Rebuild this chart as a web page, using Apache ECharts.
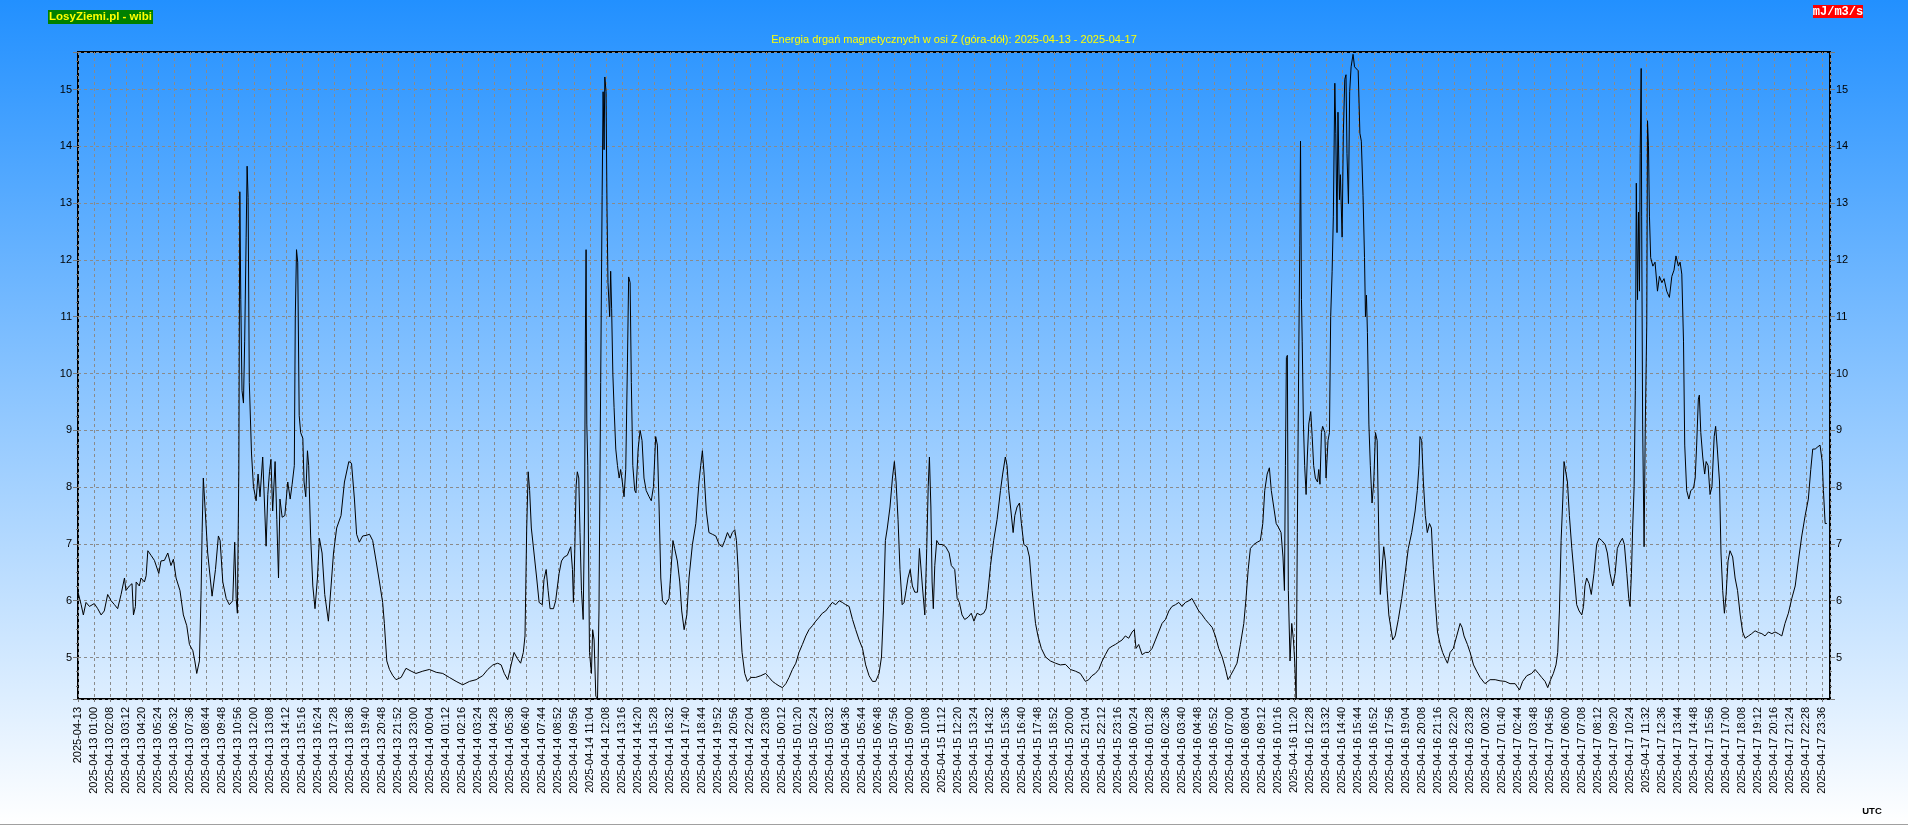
<!DOCTYPE html>
<html><head><meta charset="utf-8">
<script src="https://cdn.jsdelivr.net/npm/echarts@6/dist/echarts.min.js"></script>
<style>html,body{margin:0;padding:0;background:#fff;overflow:hidden}#c{width:1908px;height:825px}</style>
</head><body><div id="c"></div>
<script>
// X tick labels (one every ~65.75 min, as in the source chart)
const tickLabels = [
"2025-04-13","2025-04-13 01:00","2025-04-13 02:08","2025-04-13 03:12","2025-04-13 04:20","2025-04-13 05:24","2025-04-13 06:32","2025-04-13 07:36","2025-04-13 08:44","2025-04-13 09:48","2025-04-13 10:56","2025-04-13 12:00","2025-04-13 13:08","2025-04-13 14:12","2025-04-13 15:16","2025-04-13 16:24","2025-04-13 17:28","2025-04-13 18:36","2025-04-13 19:40","2025-04-13 20:48","2025-04-13 21:52","2025-04-13 23:00",
"2025-04-14 00:04","2025-04-14 01:12","2025-04-14 02:16","2025-04-14 03:24","2025-04-14 04:28","2025-04-14 05:36","2025-04-14 06:40","2025-04-14 07:44","2025-04-14 08:52","2025-04-14 09:56","2025-04-14 11:04","2025-04-14 12:08","2025-04-14 13:16","2025-04-14 14:20","2025-04-14 15:28","2025-04-14 16:32","2025-04-14 17:40","2025-04-14 18:44","2025-04-14 19:52","2025-04-14 20:56","2025-04-14 22:04","2025-04-14 23:08",
"2025-04-15 00:12","2025-04-15 01:20","2025-04-15 02:24","2025-04-15 03:32","2025-04-15 04:36","2025-04-15 05:44","2025-04-15 06:48","2025-04-15 07:56","2025-04-15 09:00","2025-04-15 10:08","2025-04-15 11:12","2025-04-15 12:20","2025-04-15 13:24","2025-04-15 14:32","2025-04-15 15:36","2025-04-15 16:40","2025-04-15 17:48","2025-04-15 18:52","2025-04-15 20:00","2025-04-15 21:04","2025-04-15 22:12","2025-04-15 23:16",
"2025-04-16 00:24","2025-04-16 01:28","2025-04-16 02:36","2025-04-16 03:40","2025-04-16 04:48","2025-04-16 05:52","2025-04-16 07:00","2025-04-16 08:04","2025-04-16 09:12","2025-04-16 10:16","2025-04-16 11:20","2025-04-16 12:28","2025-04-16 13:32","2025-04-16 14:40","2025-04-16 15:44","2025-04-16 16:52","2025-04-16 17:56","2025-04-16 19:04","2025-04-16 20:08","2025-04-16 21:16","2025-04-16 22:20","2025-04-16 23:28",
"2025-04-17 00:32","2025-04-17 01:40","2025-04-17 02:44","2025-04-17 03:48","2025-04-17 04:56","2025-04-17 06:00","2025-04-17 07:08","2025-04-17 08:12","2025-04-17 09:20","2025-04-17 10:24","2025-04-17 11:32","2025-04-17 12:36","2025-04-17 13:44","2025-04-17 14:48","2025-04-17 15:56","2025-04-17 17:00","2025-04-17 18:08","2025-04-17 19:12","2025-04-17 20:16","2025-04-17 21:24","2025-04-17 22:28","2025-04-17 23:36"
];

// Time of each reading, minutes since 2025-04-13 00:00 UTC
const times = [
0,13,22,33,47,67,81,95,108,122,136,150,163,177,191,197,211,222,228,236,239,252,259,273,280,287,300,314,332,341,355,369,382,392,403,419,433,447,458,472,480,488,499,506,510,515,521,533,551,565,577,584,595,609,622,636,644,650,655,661,665,669,674,680,685,691,695,699,704,713,721,732,740,748,759,767,773,780,787,793,800,810,817,824,830,839,850,862,872,880,889,893,898,903,909,915,924,929,936,943,948,956,965,974,984,992,1003,1014,1029,1040,1050,1063,1081,1095,1113,1124,1136,1145,1156,1170,1184,1198,1211,1225,1239,1252,1259,1269,1280,1294,1307,1328,1348,1369,1389,1417,1444,1472,1499,1526,1554,1581,1609,1636,1663,1684,1705,1725,1739,1752,1766,1780,
1792,1806,1819,1830,1837,1844,1850,1856,1863,1874,1885,1895,1908,1915,1924,1932,1940,1954,1963,1977,1987,1998,2011,2025,2032,2036,2041,2047,2052,2058,2063,2069,2076,2082,2085,2088,2091,2095,2102,2110,2115,2121,2128,2135,2141,2148,2154,2158,2162,2165,2170,2174,2178,2185,2189,2193,2198,2203,2210,2217,2224,2230,2237,2244,2251,2258,2263,2269,2274,2280,2288,2293,2302,2310,2318,2326,2335,2347,2356,2365,2374,2381,2388,2395,2402,2415,2429,2436,2445,2452,2463,2473,2481,2491,2502,2511,2525,2539,2552,2559,2566,2573,2582,2593,2607,2621,2635,2648,2658,2669,2680,2689,2699,2706,2713,2721,2729,2740,2751,2765,2785,2806,2826,2840,2854,2867,2881,2895,2909,2922,2936,2950,2963,2977,2991,3004,3018,3032,3046,3059,3073,3087,3100,3114,3128,3141,3155,3169,3183,3196,3210,3224,3237,3251,3265,3278,3292,3302,3310,3318,3326,3337,3347,3355,3362,3370,3378,3387,3395,3403,3411,3420,3429,3439,3450,3458,3463,3470,3480,3488,3494,3499,3505,3510,3515,3521,3529,3539,3552,3566,3580,3589,
3603,3613,3622,3633,3644,3658,3671,3682,3695,3708,3722,3732,3740,3750,3763,3777,3791,3800,3811,3818,3825,3834,3843,3850,3859,3869,3877,3887,3900,3910,3921,3935,3945,3959,3976,3996,4017,4037,4058,4078,4099,4119,4140,4154,4167,4181,4195,4209,4222,4236,4250,4263,4277,4291,4304,4318,4332,4341,4348,4359,4373,4387,4400,4414,4428,4441,4455,4469,4483,4496,4510,4524,4537,4551,4565,4578,4592,4606,4620,4633,4647,4661,4674,4688,4702,4715,4726,4736,4750,4763,4777,4791,4800,4809,4818,4832,4846,4859,4869,4877,4887,4896,4904,4914,4924,4935,4944,4952,4958,4962,4966,4970,4974,4981,4988,4995,5000,5006,5011,5017,5021,5024,5028,5031,5036,5041,5047,5052,5058,5066,5072,5078,5085,5094,5099,5104,5110,5115,5124,5129,5137,5143,5148,5154,5159,5165,5169,5174,5178,5184,5188,5195,5200,5206,5211,5215,5221,5226,5232,5240,5246,5254,5261,5268,5274,5281,5287,5291,5295,5299,5305,5311,5318,5325,5332,5339,5346,5352,5359,5366,5373,5380,5387,
5403,5413,5426,5440,5454,5467,5481,5495,5504,5511,5515,5522,5529,5537,5545,5554,5562,5570,5578,5587,5598,5608,5619,5628,5639,5652,5666,5680,5688,5696,5710,5721,5735,5748,5762,5782,5803,5824,5844,5865,5885,5906,5924,5937,5954,5974,5988,6002,6015,6029,6040,6052,6063,6074,6081,6088,6095,6102,6107,6114,6121,6129,6139,6148,6159,6169,6180,6187,6193,6200,6210,6219,6230,6241,6251,6262,6276,6285,6296,6307,6317,6326,6337,6347,6355,6365,6373,6378,6384,6389,6395,6400,6404,6409,6413,6417,6420,6424,6426,6430,6436,6441,6447,6450,6454,6458,6463,6472,6481,6491,6499,6509,6518,6529,6540,6550,6559,6567,6577,6584,6591,6598,6603,6611,6620,6628,6639,6646,6652,6659,6663,6669,6677,6685,6691,6699,6707,6715,6724,6730,6737,6746,6752,6759,6766,6773,6781,6789,6800,6810,6820,6831,6841,6851,6865,6878,6892,6906,6920,6933,6947,6961,6974,6988,7002,7015,7029,7043,7057,7070,7084,7098,7111,7121,7129,7139,7150,7159,7168,7173,7180,7187
];

// Energy values, mJ/m3/s
const values = [
6.15,5.93,5.75,5.97,5.9,5.95,5.86,5.75,5.82,6.11,6.0,5.93,5.86,6.11,6.4,6.18,6.26,6.3,5.75,5.9,6.33,6.26,6.4,6.33,6.44,6.88,6.8,6.71,6.48,6.7,6.71,6.84,6.62,6.73,6.4,6.18,5.75,5.56,5.23,5.12,4.94,4.72,4.94,6.18,7.2,8.16,7.72,6.84,6.08,6.55,7.14,7.06,6.33,6.04,5.93,6.0,7.03,6.04,5.78,8.3,13.2,11.3,9.7,9.48,10.57,12.4,13.65,13.1,9.84,8.6,8.01,7.76,8.23,7.83,8.53,7.65,6.96,7.87,8.27,8.49,7.58,8.45,7.43,6.4,7.79,7.47,7.5,8.09,7.79,8.05,8.38,11.0,12.18,11.96,9.26,8.96,8.86,8.09,7.83,8.64,8.38,7.14,6.26,5.86,6.4,7.1,6.84,6.11,5.64,6.26,6.84,7.28,7.5,8.09,8.45,8.42,7.79,7.17,7.03,7.14,7.15,7.17,7.06,6.7,6.33,5.97,5.6,4.94,4.79,4.68,4.61,4.65,4.81,4.76,4.72,4.76,4.79,4.74,4.72,4.65,4.58,4.52,4.58,4.61,4.68,4.79,4.87,4.9,4.87,4.72,4.61,4.87,
5.09,4.98,4.9,5.09,5.38,7.28,8.27,7.94,7.28,6.84,6.4,5.97,5.93,6.37,6.55,6.18,5.86,5.86,6.0,6.48,6.7,6.77,6.8,6.95,6.55,5.97,6.77,8.02,8.27,8.16,7.2,6.18,5.67,7.65,10.57,12.18,9.11,8.38,5.09,4.72,5.49,5.31,4.32,4.28,5.82,9.84,13.13,14.96,13.94,15.22,14.96,12.9,11.6,11.0,11.8,11.14,9.99,9.4,8.67,8.38,8.16,8.31,8.09,7.83,8.31,10.2,11.7,11.6,9.84,8.38,7.94,7.9,8.67,9.0,8.82,8.16,7.94,7.83,7.76,8.01,8.89,8.74,7.65,6.4,6.0,5.93,6.04,6.48,7.06,6.92,6.7,6.33,5.82,5.49,5.75,6.4,6.99,7.36,8.09,8.38,8.64,8.23,7.58,7.2,7.17,7.14,6.99,6.95,7.06,7.2,7.1,7.2,7.25,7.06,6.55,5.67,5.09,4.72,4.58,4.65,4.65,4.68,4.72,4.65,4.58,4.54,4.5,4.47,4.54,4.65,4.79,4.9,5.09,5.23,5.38,5.49,5.56,5.64,5.71,5.78,5.82,5.9,5.97,5.93,6.0,5.97,5.93,5.9,5.67,5.49,5.31,5.16,4.87,4.68,4.58,4.58,4.72,5.01,5.82,7.06,7.28,7.65,8.16,8.45,8.09,7.43,6.55,5.93,5.97,6.18,6.4,6.55,6.26,6.15,6.15,6.92,6.95,6.26,5.75,6.92,8.01,8.53,7.65,6.33,5.86,6.62,7.06,6.99,6.99,6.95,6.84,6.62,
6.55,6.04,5.97,5.75,5.67,5.71,5.78,5.64,5.78,5.75,5.78,5.86,6.18,6.62,7.06,7.43,7.94,8.23,8.53,8.38,7.94,7.58,7.2,7.5,7.65,7.72,7.36,6.99,6.95,6.77,6.18,5.6,5.38,5.16,5.01,4.94,4.9,4.87,4.88,4.79,4.76,4.72,4.58,4.61,4.68,4.72,4.79,4.94,5.05,5.16,5.2,5.23,5.27,5.31,5.38,5.34,5.45,5.49,5.16,5.23,5.05,5.09,5.09,5.16,5.31,5.45,5.6,5.67,5.82,5.9,5.93,5.97,5.9,5.97,6.0,6.04,5.93,5.82,5.75,5.67,5.6,5.53,5.38,5.16,5.01,4.81,4.61,4.68,4.79,4.9,5.23,5.6,6.04,6.55,6.92,6.99,7.03,7.06,7.36,7.94,8.23,8.34,7.94,7.65,7.36,7.28,7.2,6.77,6.18,8.38,10.28,10.32,6.18,4.94,5.6,5.31,4.94,4.28,7.2,10.43,12.26,14.09,11.3,10.57,9.11,8.38,7.87,8.53,9.11,9.33,8.89,8.38,8.16,8.09,8.31,8.05,8.96,9.07,8.96,8.16,8.82,8.96,11.0,11.8,12.77,15.11,14.23,12.48,14.6,13.06,13.5,12.4,14.23,15.18,15.26,13.87,12.99,14.96,15.4,15.62,15.4,15.4,15.33,14.23,14.09,13.13,12.04,11.0,11.38,10.72,9.11,8.38,7.72,8.09,8.96,8.82,7.06,6.11,6.55,6.95,6.7,6.18,5.75,
5.31,5.38,5.67,6.04,6.48,6.92,7.2,7.58,7.94,8.38,8.89,8.82,8.09,7.5,7.2,7.36,7.28,6.55,5.97,5.45,5.23,5.09,4.98,4.9,5.09,5.16,5.38,5.6,5.53,5.38,5.23,5.09,4.87,4.76,4.65,4.54,4.61,4.61,4.59,4.58,4.54,4.54,4.43,4.58,4.68,4.72,4.79,4.72,4.65,4.58,4.47,4.61,4.72,4.87,5.09,5.82,7.06,7.79,8.45,8.45,8.09,7.5,6.92,6.48,5.93,5.82,5.75,5.9,6.26,6.4,6.3,6.11,6.48,6.99,7.1,7.06,6.99,6.84,6.48,6.26,6.48,6.92,7.03,7.1,6.99,6.48,6.04,5.9,6.48,7.28,8.01,9.7,13.35,11.3,12.84,11.45,13.87,15.37,12.77,9.11,6.95,9.11,10.87,14.45,14.01,12.77,12.04,11.89,11.96,11.45,11.71,11.6,11.67,11.45,11.34,11.71,11.82,12.07,11.89,11.96,11.75,10.57,8.74,7.94,7.79,7.94,7.98,8.16,8.74,9.55,9.62,8.96,8.53,8.23,8.45,8.38,7.87,8.01,8.89,9.07,8.67,8.09,6.84,6.18,5.78,6.11,6.7,6.88,6.77,6.4,6.18,5.75,5.45,5.34,5.38,5.42,5.47,5.44,5.42,5.38,5.45,5.42,5.45,5.42,5.38,5.6,5.78,6.04,6.26,6.7,7.14,7.5,7.79,8.31,8.67,8.67,8.71,8.74,8.45,7.94,7.36,7.36
];

const TITLE = "Energia drgań magnetycznych w osi Z (góra-dół): 2025-04-13 - 2025-04-17";
const SITE_LABEL = "LosyZiemi.pl - wibi";
const UNIT_LABEL = "mJ/m3/s";
const TZ_LABEL = "UTC";

const T_MAX = 7200;               // 5 days in minutes
const X_STEP = T_MAX / 109.5;      // label spacing in minutes
const Y_MIN = 4.27, Y_MAX = 15.66;

const chart = echarts.init(document.getElementById('c'), null, {renderer: 'canvas'});
const FONT = 'Liberation Sans, Arial, sans-serif';

function xLabel(v) {
  const i = Math.round(v / X_STEP);
  if (Math.abs(v - i * X_STEP) > 0.01 || i < 0 || i >= tickLabels.length) return '';
  return tickLabels[i];
}

const yCommon = {
  type: 'value', min: Y_MIN, max: Y_MAX, splitNumber: 11,
  axisLine: {show: false},
  axisTick: {show: true, length: 5, lineStyle: {color: '#7a7a7a'}},
  minorTick: {show: true, splitNumber: 4, length: 2, lineStyle: {color: '#7a7a7a'}},
  axisLabel: {fontSize: 11, color: '#000', fontFamily: FONT, margin: 6, showMinLabel: false, showMaxLabel: false}
};

chart.setOption({
  animation: false,
  backgroundColor: {type: 'linear', x: 0, y: 0, x2: 0, y2: 1,
    colorStops: [{offset: 0, color: '#2290FF'}, {offset: 1, color: '#FFFFFF'}]},
  title: {text: TITLE, left: 'center', top: 34, padding: 0,
    textStyle: {color: '#FFFF00', fontSize: 11, fontWeight: 'normal', fontFamily: FONT}},
  grid: {left: 78, top: 52, width: 1752, height: 647, show: true, borderColor: '#000', borderWidth: 2, backgroundColor: 'transparent'},
  xAxis: {
    type: 'value', min: 0, max: T_MAX, interval: X_STEP,
    axisLine: {show: false},
    axisTick: {show: true, length: 3, lineStyle: {color: '#7a7a7a'}},
    axisLabel: {rotate: 90, fontSize: 11, color: '#000', fontFamily: FONT, margin: 8, formatter: xLabel, showMaxLabel: false, hideOverlap: false},
    splitLine: {show: true, lineStyle: {color: '#8a8a8a', width: 1, type: [3, 3]}}
  },
  yAxis: [
    Object.assign({}, yCommon, {position: 'left',
      splitLine: {show: true, lineStyle: {color: '#8a8a8a', width: 1, type: [3, 3]}}}),
    Object.assign({}, yCommon, {position: 'right', splitLine: {show: false}})
  ],
  series: [{
    type: 'line', yAxisIndex: 0, showSymbol: false, silent: true,
    lineStyle: {color: '#000', width: 1},
    data: times.map((t, i) => [t, values[i]])
  }],
  graphic: [
    {type: 'rect', left: 48, top: 10, shape: {width: 105, height: 14}, style: {fill: '#008000'}},
    {type: 'text', x: 100.5, y: 17, style: {text: SITE_LABEL, fill: '#FFFF00', font: 'bold 11.5px ' + FONT, textAlign: 'center', textVerticalAlign: 'middle'}},
    {type: 'rect', left: 1813, top: 5, shape: {width: 50, height: 13}, style: {fill: '#FF0000'}},
    {type: 'text', x: 1838, y: 11.5, style: {text: UNIT_LABEL, fill: '#FFFFFF', font: 'bold 12px Liberation Mono, DejaVu Sans Mono, monospace', textAlign: 'center', textVerticalAlign: 'middle'}},
    {type: 'text', x: 1872, y: 811, style: {text: TZ_LABEL, fill: '#000', font: 'bold 9.5px ' + FONT, textAlign: 'center', textVerticalAlign: 'middle'}},
    {type: 'line', shape: {x1: 0, y1: 824.5, x2: 1908, y2: 824.5}, style: {stroke: '#a0a0a0', lineWidth: 1}}
  ]
});
</script>
</body></html>
